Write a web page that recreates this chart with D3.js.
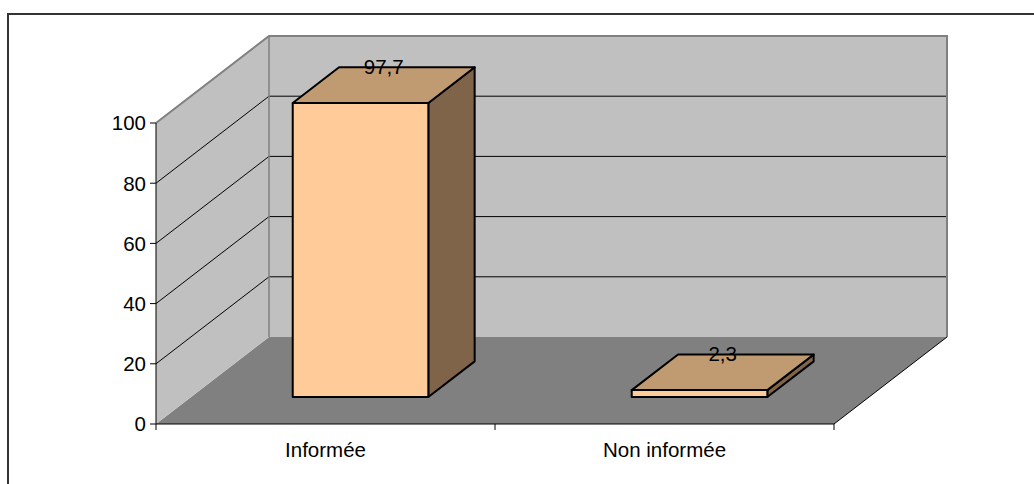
<!DOCTYPE HTML>
<html lang="fr">
    <head>
        <meta charset="utf-8" />
        <title>Informée vs Non informée</title>
        <style>
            body { margin: 0; background: #fff; }
            svg text { font-family: "Liberation Sans", Arial, sans-serif; font-size: 20.5px; fill: #000; }
        </style>
    </head>
    <body>
        <div class="svg"></div>
        <script src="https://d3js.org/d3.v7.min.js"></script>
        <script type="text/javascript">

            // data
            const categories = ["Informée", "Non informée"];
            const values = [97.7, 2.3];
            const valueLabels = ["97,7", "2,3"];
            const yTicks = [0, 20, 40, 60, 80, 100];

            const width = 1034;
            const height = 484;

            // plot box (front plane) + depth offset
            const plotLeft = 156, plotRight = 834, plotBottom = 424, plotTop = 123;
            const depthX = 113, depthY = 87;
            const d0 = 0.31, d1 = 0.72;

            const svg = d3.select(".svg")
                    .append("svg")
                    .attr("width", width)
                    .attr("height", height);

            // outer frame
            svg.append("rect")
                .attr("x", 8).attr("y", 14)
                .attr("width", 1040).attr("height", 490)
                .attr("fill", "none")
                .attr("stroke", "#333")
                .attr("stroke-width", 2);

            const y = d3.scaleLinear().domain([0, 100]).range([plotBottom, plotTop]);
            const x = d3.scaleBand()
                        .domain(categories)
                        .range([plotLeft, plotRight])
                        .paddingInner(0.6)
                        .paddingOuter(0.3);
            const xOuter = d3.scaleBand().domain(categories).range([plotLeft, plotRight]);

            const P = (px, py, d) => [px + d * depthX, py - d * depthY];
            const poly = pts => "M" + pts.map(p => p.join(",")).join("L") + "Z";

            // walls
            svg.append("path")
                .attr("d", poly([P(plotLeft, plotBottom, 0), P(plotRight, plotBottom, 0), P(plotRight, plotBottom, 1), P(plotLeft, plotBottom, 1)]))
                .attr("fill", "#808080");
            svg.append("path")
                .attr("d", poly([P(plotLeft, plotBottom, 1), P(plotRight, plotBottom, 1), P(plotRight, plotTop, 1), P(plotLeft, plotTop, 1)]))
                .attr("fill", "#c0c0c0");
            svg.append("path")
                .attr("d", poly([P(plotLeft, plotBottom, 0), P(plotLeft, plotBottom, 1), P(plotLeft, plotTop, 1), P(plotLeft, plotTop, 0)]))
                .attr("fill", "#c0c0c0");

            // gridlines
            const grid = yTicks.filter(t => t > 0 && t < 100);
            svg.selectAll("path.grid")
                .data(grid)
                .enter()
                .append("path")
                .attr("class", "grid")
                .attr("d", t => "M" + P(plotLeft, y(t), 0) + "L" + P(plotLeft, y(t), 1) + "L" + P(plotRight, y(t), 1))
                .attr("fill", "none")
                .attr("stroke", "#000")
                .attr("stroke-width", 1);

            // wall edges
            svg.append("path")
                .attr("d", "M" + P(plotLeft, plotTop, 0) + "L" + P(plotLeft, plotTop, 1) + "L" + P(plotRight, plotTop, 1) + "L" + P(plotRight, plotBottom, 1))
                .attr("fill", "none")
                .attr("stroke", "#808080")
                .attr("stroke-width", 2);
            svg.append("path")
                .attr("d", "M" + P(plotLeft, plotTop, 1) + "L" + P(plotLeft, plotBottom, 1))
                .attr("fill", "none")
                .attr("stroke", "#808080")
                .attr("stroke-width", 1.5);
            svg.append("path")
                .attr("d", "M" + P(plotRight, plotBottom, 0) + "L" + P(plotRight, plotBottom, 1))
                .attr("fill", "none")
                .attr("stroke", "#000")
                .attr("stroke-width", 1);

            // bars
            const bars = svg.selectAll("g.bar")
                            .data(categories.map((c, i) => ({cat: c, value: values[i], label: valueLabels[i]})))
                            .enter()
                            .append("g")
                            .attr("class", "bar");

            const bx0 = d => x(d.cat), bx1 = d => x(d.cat) + x.bandwidth();

            bars.append("path")
                .attr("d", d => poly([P(bx1(d), y(0), d0), P(bx1(d), y(0), d1), P(bx1(d), y(d.value), d1), P(bx1(d), y(d.value), d0)]))
                .attr("fill", "#7f644a");
            bars.append("path")
                .attr("d", d => poly([P(bx0(d), y(d.value), d0), P(bx1(d), y(d.value), d0), P(bx1(d), y(d.value), d1), P(bx0(d), y(d.value), d1)]))
                .attr("fill", "#c09a70");
            bars.append("path")
                .attr("d", d => poly([P(bx0(d), y(0), d0), P(bx1(d), y(0), d0), P(bx1(d), y(d.value), d0), P(bx0(d), y(d.value), d0)]))
                .attr("fill", "#ffcc99");
            bars.selectAll("path")
                .attr("stroke", "#000")
                .attr("stroke-width", 2)
                .attr("stroke-linejoin", "round");

            // value labels
            bars.append("text")
                .attr("x", d => x(d.cat) + x.bandwidth() / 2 + (d0 + d1) / 2 * depthX)
                .attr("y", d => y(d.value) - d1 * depthY + 7)
                .attr("text-anchor", "middle")
                .text(d => d.label);

            // axes
            const yAxis = svg.append("g");
            yAxis.append("line")
                .attr("x1", plotLeft).attr("x2", plotLeft)
                .attr("y1", plotTop).attr("y2", plotBottom)
                .attr("stroke", "#000");
            yAxis.selectAll("line.tick")
                .data(yTicks)
                .enter()
                .append("line")
                .attr("class", "tick")
                .attr("x1", plotLeft - 6).attr("x2", plotLeft)
                .attr("y1", d => y(d)).attr("y2", d => y(d))
                .attr("stroke", "#000");
            yAxis.selectAll("text")
                .data(yTicks)
                .enter()
                .append("text")
                .attr("x", plotLeft - 10)
                .attr("y", d => y(d))
                .attr("dy", "0.36em")
                .attr("text-anchor", "end")
                .text(d => d);

            const xAxis = svg.append("g");
            xAxis.append("line")
                .attr("x1", plotLeft).attr("x2", plotRight)
                .attr("y1", plotBottom).attr("y2", plotBottom)
                .attr("stroke", "#000");
            xAxis.selectAll("line.tick")
                .data([plotLeft, ...categories.map(c => xOuter(c) + xOuter.bandwidth())])
                .enter()
                .append("line")
                .attr("class", "tick")
                .attr("x1", d => d).attr("x2", d => d)
                .attr("y1", plotBottom).attr("y2", plotBottom + 6)
                .attr("stroke", "#000");
            xAxis.selectAll("text")
                .data(categories)
                .enter()
                .append("text")
                .attr("x", c => xOuter(c) + xOuter.bandwidth() / 2)
                .attr("y", plotBottom + 33)
                .attr("text-anchor", "middle")
                .text(c => c);
        </script>
    </body>
</html>
